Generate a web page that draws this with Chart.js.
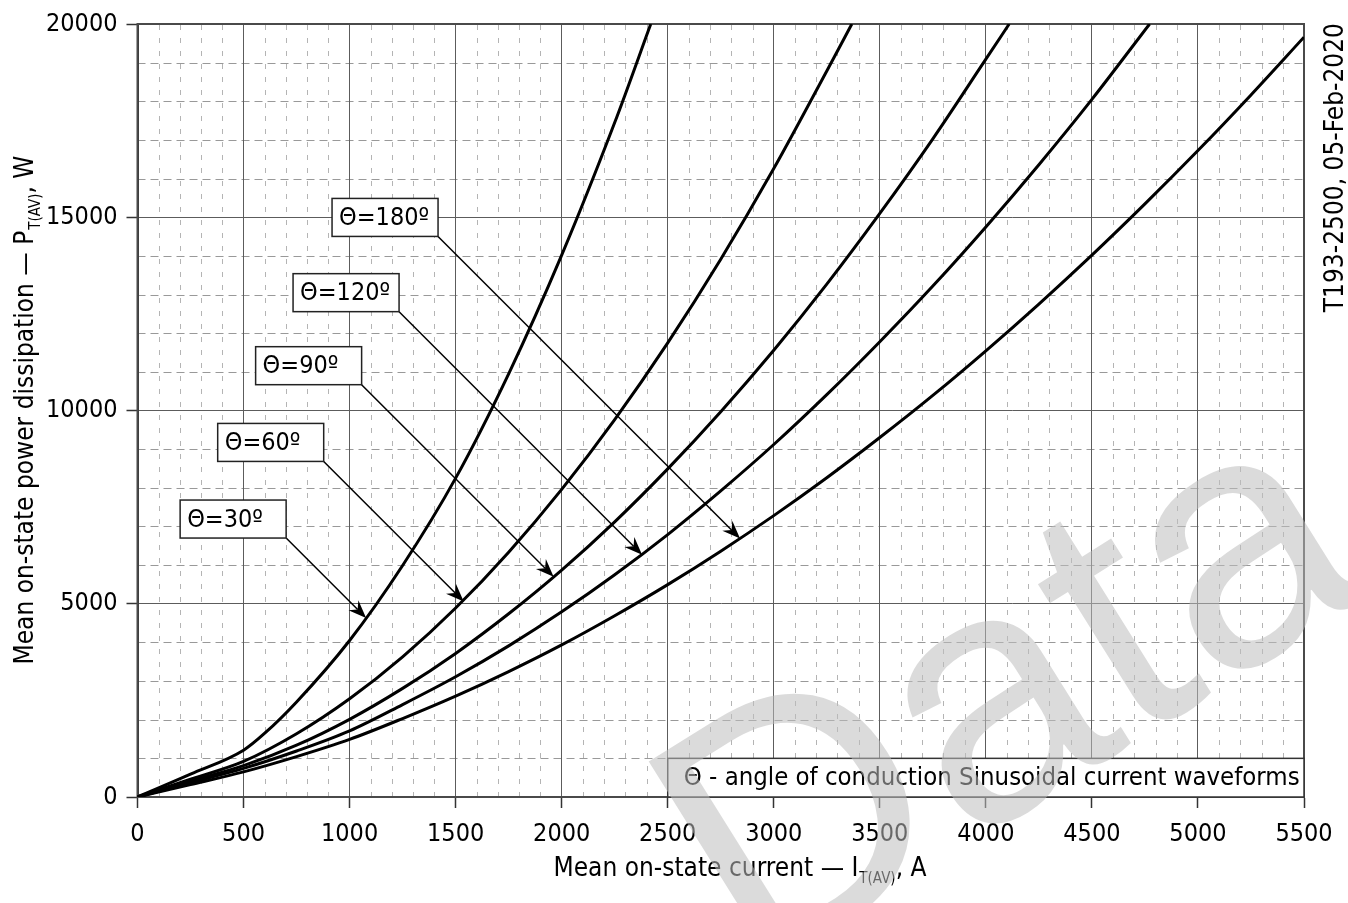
<!DOCTYPE html>
<html><head><meta charset="utf-8">
<script src="https://cdn.jsdelivr.net/npm/chart.js@4.4.1/dist/chart.umd.min.js"></script>
<style>html,body{margin:0;padding:0;background:#fff;overflow:hidden}#box{position:relative;width:1348px;height:903px}</style>
</head><body><div id="box"><canvas id="chart" width="1348" height="903"></canvas></div>
<script>
// ---------------- data ----------------
const xTickValues = [0,500,1000,1500,2000,2500,3000,3500,4000,4500,5000,5500];
const yTickValues = [0,5000,10000,15000,20000];

const angleLabels = ['Θ=30º','Θ=60º','Θ=90º','Θ=120º','Θ=180º'];

const current30  = [0,250,500,600,750,1000,1250,1500,1750,2000,2250,2420];
const power30    = [0,590,1210,1650,2460,4050,5990,8250,10950,14020,17450,20000];
const current60  = [0,250,500,750,1000,1250,1500,1750,2000,2250,2500,2750,3000,3250,3368];
const power60    = [0,460,920,1635,2540,3625,4890,6335,7960,9765,11750,13915,16260,18785,20000];
const current90  = [0,250,500,750,1000,1250,1500,1750,2000,2250,2500,2750,3000,3250,3500,3750,4000,4110];
const power90    = [0,410,810,1340,2010,2810,3715,4740,5870,7120,8490,9970,11560,13270,15100,17030,19090,20000];
const current120 = [0,250,500,750,1000,1250,1500,1750,2000,2250,2500,2750,3000,3250,3500,3750,4000,4250,4500,4772];
const power120   = [0,370,740,1190,1710,2390,3110,3910,4790,5750,6790,7920,9120,10410,11780,13220,14750,16360,18050,20000];
const current180 = [0,250,500,750,1000,1250,1500,1750,2000,2250,2500,2750,3000,3250,3500,3750,4000,4250,4500,4750,5000,5250,5500];
const power180   = [0,320,650,1045,1490,2030,2610,3245,3935,4690,5495,6360,7280,8260,9300,10390,11545,12755,14020,15345,16725,18165,19660];

// arrow tips (points on the curves the labels point to)
const arrowTipCurrent = [1078,1538,1962,2379,2841];
const arrowTipPower   = [4630,5060,5700,6270,6690];

const noteText  = 'Θ - angle of conduction Sinusoidal current waveforms';
const xTitle    = ['Mean on-state current — I', 'T(AV)', ', A'];
const yTitle    = ['Mean on-state power dissipation — P', 'T(AV)', ', W'];
const sideText  = 'T193-2500, 05-Feb-2020';
const watermark = 'Data';

// ---------------- style / layout ----------------
function pickFamily(){
  const c = document.createElement('canvas').getContext('2d');
  const s = 'Mean on-state power dissipation';
  c.font = "40px monospace"; const w0 = c.measureText(s).width;
  c.font = "40px 'DejaVu Sans Condensed', monospace"; const w1 = c.measureText(s).width;
  return Math.abs(w1 - w0) > 0.5 ? "'DejaVu Sans Condensed'" : "'Liberation Sans'";
}
const FAM = pickFamily();
const TICK_FS = 25, TITLE_FS = 26, LABEL_FS = 25, NOTE_FS = 25.5;
const arrowLen = [80,140,192,243,302];
const LABEL_W = 106, LABEL_H = 38;

const curves = [
  [current30, power30],[current60, power60],[current90, power90],[current120, power120],[current180, power180]
];
const datasets = curves.map((c,k) => ({
  label: angleLabels[k],
  data: c[0].map((v,i) => ({x:v, y:c[1][i]})),
  showLine: true, borderColor: '#000', borderWidth: 3, pointRadius: 0,
  fill: false, cubicInterpolationMode: 'monotone'
}));

function drawComposite(ctx, parts, x, y, align){
  const main = TITLE_FS + 'px ' + FAM, sub = '15px ' + FAM;
  ctx.font = main; const w0 = ctx.measureText(parts[0]).width, w2 = ctx.measureText(parts[2]).width;
  ctx.font = sub; const w1 = ctx.measureText(parts[1]).width;
  const total = w0 + w1 + 1 + w2;
  let sx = align === 'center' ? x - total/2 : x;
  ctx.textAlign = 'left'; ctx.textBaseline = 'alphabetic';
  ctx.font = main; ctx.fillText(parts[0], sx, y);
  ctx.font = sub; ctx.fillText(parts[1], sx + w0 + 1, y + 7);
  ctx.font = main; ctx.fillText(parts[2], sx + w0 + 1 + w1, y);
}

const decorPlugin = {
  id: 'decor',
  beforeDraw(chart){
    const {ctx, chartArea:a, scales:{x, y}} = chart;
    ctx.save();
    ctx.fillStyle = '#fff'; ctx.fillRect(0,0,chart.width,chart.height);
    ctx.lineWidth = 1;
    ctx.strokeStyle = '#b4b4b4'; ctx.setLineDash([5,8]);
    for (let v = 100; v < 5500; v += 100){
      if (v % 500 === 0) continue;
      const px = Math.round(x.getPixelForValue(v)) + 0.5;
      ctx.beginPath(); ctx.moveTo(px, a.bottom); ctx.lineTo(px, a.top); ctx.stroke();
    }
    ctx.strokeStyle = '#999'; ctx.setLineDash([8,5]);
    for (let v = 1000; v < 20000; v += 1000){
      if (v % 5000 === 0) continue;
      const py = Math.round(y.getPixelForValue(v)) + 0.5;
      ctx.beginPath(); ctx.moveTo(a.left, py); ctx.lineTo(a.right, py); ctx.stroke();
    }
    ctx.restore();
  },
  beforeDatasetsDraw(chart){
    const {ctx, chartArea:a} = chart;
    ctx.save();
    ctx.strokeStyle = '#4a4a4a'; ctx.lineWidth = 2;
    ctx.strokeRect(a.left, a.top, a.right - a.left, a.bottom - a.top);
    ctx.restore();
  },
  afterDatasetsDraw(chart){
    const {ctx, chartArea:a, scales:{x, y}} = chart;
    ctx.save();
    const nx = x.getPixelForValue(2500), ny = y.getPixelForValue(1000);
    ctx.fillStyle = '#fff'; ctx.fillRect(nx, ny, a.right - nx, a.bottom - ny);
    ctx.strokeStyle = '#333'; ctx.lineWidth = 1.5;
    ctx.strokeRect(nx, ny, a.right - nx, a.bottom - ny);
    ctx.fillStyle = '#000'; ctx.font = NOTE_FS + 'px ' + FAM; ctx.textBaseline = 'middle'; ctx.textAlign = 'left';
    ctx.fillText(noteText, nx + 16, (ny + a.bottom)/2 + 1);
    for (let i = 0; i < angleLabels.length; i++){
      const tx = x.getPixelForValue(arrowTipCurrent[i]), ty = y.getPixelForValue(arrowTipPower[i]);
      const bx = tx - arrowLen[i], by = ty - arrowLen[i];
      const ang = Math.atan2(ty - by, tx - bx), L = 18, W = 7, N = 12;
      ctx.strokeStyle = '#000'; ctx.lineWidth = 1.5;
      ctx.beginPath(); ctx.moveTo(bx, by); ctx.lineTo(tx - Math.cos(ang)*N, ty - Math.sin(ang)*N); ctx.stroke();
      ctx.save(); ctx.translate(tx, ty); ctx.rotate(ang);
      ctx.fillStyle = '#000'; ctx.beginPath();
      ctx.moveTo(0,0); ctx.lineTo(-L,-W); ctx.lineTo(-N,0); ctx.lineTo(-L,W); ctx.closePath(); ctx.fill();
      ctx.restore();
      ctx.fillStyle = '#fff'; ctx.fillRect(bx - LABEL_W, by - LABEL_H, LABEL_W, LABEL_H);
      ctx.strokeStyle = '#222'; ctx.lineWidth = 1.5;
      ctx.strokeRect(bx - LABEL_W, by - LABEL_H, LABEL_W, LABEL_H);
      ctx.fillStyle = '#000'; ctx.font = LABEL_FS + 'px ' + FAM; ctx.textBaseline = 'middle'; ctx.textAlign = 'left';
      ctx.fillText(angleLabels[i], bx - LABEL_W + 7, by - LABEL_H/2 + 1);
    }
    ctx.restore();
  },
  afterDraw(chart){
    const {ctx} = chart;
    ctx.save();
    ctx.fillStyle = '#000';
    drawComposite(ctx, xTitle, 740, 876, 'center');
    ctx.save(); ctx.translate(33, 410); ctx.rotate(-Math.PI/2);
    drawComposite(ctx, yTitle, 0, 0, 'center'); ctx.restore();
    ctx.save(); ctx.translate(1343, 0); ctx.rotate(-Math.PI/2);
    ctx.font = TITLE_FS + 'px ' + FAM; ctx.textAlign = 'right'; ctx.textBaseline = 'alphabetic';
    ctx.fillText(sideText, -23, 0); ctx.restore();
    // watermark
    ctx.save(); ctx.translate(752, 981); ctx.rotate(-32*Math.PI/180);
    ctx.font = "350px 'Liberation Sans'"; ctx.fillStyle = 'rgba(190,190,190,0.55)';
    ctx.textAlign = 'left'; ctx.textBaseline = 'alphabetic';
    ctx.fillText(watermark, 0, 0); ctx.restore();
    ctx.restore();
  }
};

new Chart(document.getElementById('chart'), {
  type: 'scatter',
  data: { datasets },
  options: {
    responsive: false, animation: false, devicePixelRatio: 1,
    layout: { padding: { top: 20, right: 44, left: 0, bottom: 0 } },
    plugins: { legend: { display: false }, tooltip: { enabled: false } },
    scales: {
      x: {
        type: 'linear', min: 0, max: 5500,
        afterBuildTicks: s => { s.ticks = xTickValues.map(v => ({value: v})); },
        afterFit: s => { s.height = 106; },
        ticks: { font: { family: FAM, size: TICK_FS }, color: '#000', padding: 11, maxRotation: 0, autoSkip: false, callback: v => String(v) },
        grid: { color: '#5c5c5c', lineWidth: 1, tickColor: '#333', tickLength: 11, tickWidth: 1.5 },
        border: { display: true, color: '#333', width: 2 }
      },
      y: {
        type: 'linear', min: 0, max: 20000,
        afterBuildTicks: s => { s.ticks = yTickValues.map(v => ({value: v})); },
        afterFit: s => { s.width = 137.5; },
        ticks: { font: { family: FAM, size: TICK_FS }, color: '#000', padding: 9, callback: v => String(v) },
        grid: { color: '#5c5c5c', lineWidth: 1, tickColor: '#333', tickLength: 11, tickWidth: 1.5 },
        border: { display: true, color: '#333', width: 2 }
      }
    }
  },
  plugins: [decorPlugin]
});
</script>
</body></html>
